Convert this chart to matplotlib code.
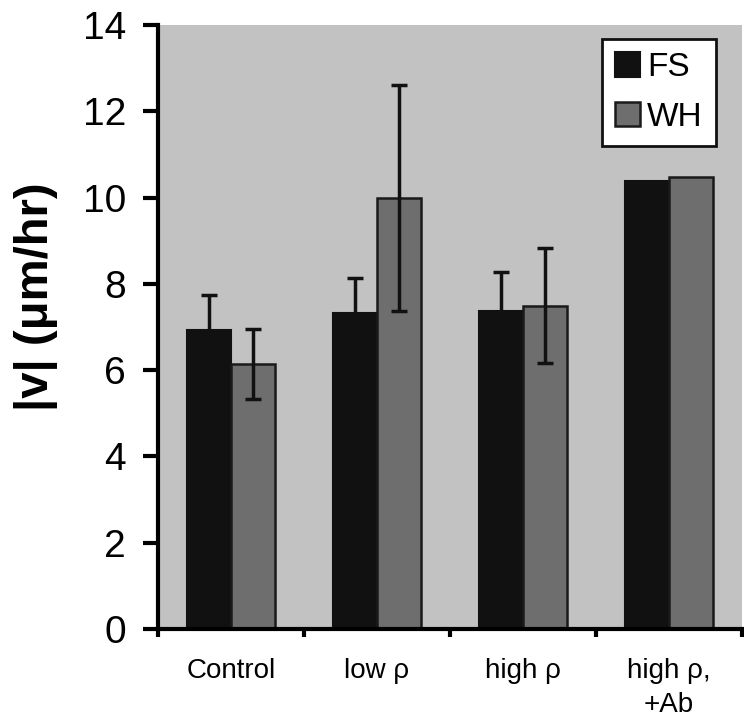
import numpy as np
import matplotlib
matplotlib.use("Agg")
import matplotlib.pyplot as plt

plt.rcParams['font.family'] = ['Liberation Sans', 'DejaVu Sans']

# Data
categories = ["Control", "low \u03c1", "high \u03c1", "high \u03c1,\n+Ab"]
fs_vals = [6.93, 7.32, 7.37, 10.39]
fs_err = [0.81, 0.82, 0.90, None]
wh_vals = [6.14, 9.99, 7.49, 10.48]
wh_err = [0.82, 2.63, 1.33, None]

fig = plt.figure(figsize=(7.44, 7.21), dpi=100)
ax = fig.add_axes([0.2124, 0.1276, 0.7849, 0.8377])
ax.set_facecolor('#c2c2c2')

x = np.arange(len(categories))
w = 0.30
ax.bar(x - w / 2, fs_vals, w, color='#111111', edgecolor='#111111',
       linewidth=1.5, label='FS', zorder=2)
ax.bar(x + w / 2, wh_vals, w, color='#6e6e6e', edgecolor='#1a1a1a',
       linewidth=1.8, label='WH', zorder=2)

# error bars only where the figure shows them
for offs, vals, errs in [(-w / 2, fs_vals, fs_err), (w / 2, wh_vals, wh_err)]:
    idx = [i for i, e in enumerate(errs) if e is not None]
    ax.errorbar(x[idx] + offs, [vals[i] for i in idx], yerr=[errs[i] for i in idx],
                fmt='none', ecolor='#111111', elinewidth=2.5, capsize=5.5,
                capthick=2.5, zorder=3)

ax.set_xlim(-0.5, len(categories) - 0.5)
ax.set_ylim(0, 14)
ax.set_yticks(np.arange(0, 15, 2))
ax.tick_params(axis='y', labelsize=28, length=11, width=3, pad=12)

# boundary ticks on x, labels at the centres
ax.set_xticks(np.arange(-0.5, len(categories), 1.0))
ax.set_xticklabels([])
ax.tick_params(axis='x', which='major', length=6, width=3)
ax.set_xticks(x, minor=True)
ax.set_xticklabels(categories, minor=True, fontsize=20, va='top', linespacing=1.4)
ax.tick_params(axis='x', which='minor', length=0, pad=21)

for s in ['top', 'right']:
    ax.spines[s].set_visible(False)
ax.spines['left'].set_linewidth(3)
ax.spines['bottom'].set_linewidth(3)

ax.set_ylabel('|v| (\u03bcm/hr)', fontsize=34, fontweight='bold', va='center')
ax.yaxis.set_label_coords(-0.209, 0.55)

leg = ax.legend(loc='upper right', bbox_to_anchor=(0.955, 0.977), fontsize=24,
                frameon=True, fancybox=False, handlelength=0.75, handleheight=0.75,
                handletextpad=0.2, borderpad=0.4, labelspacing=0.55, borderaxespad=0)
leg.get_frame().set_edgecolor('#111111')
leg.get_frame().set_linewidth(2)
leg.get_frame().set_facecolor('white')
leg.get_frame().set_alpha(1)

fig.savefig('out.png', dpi=100)
